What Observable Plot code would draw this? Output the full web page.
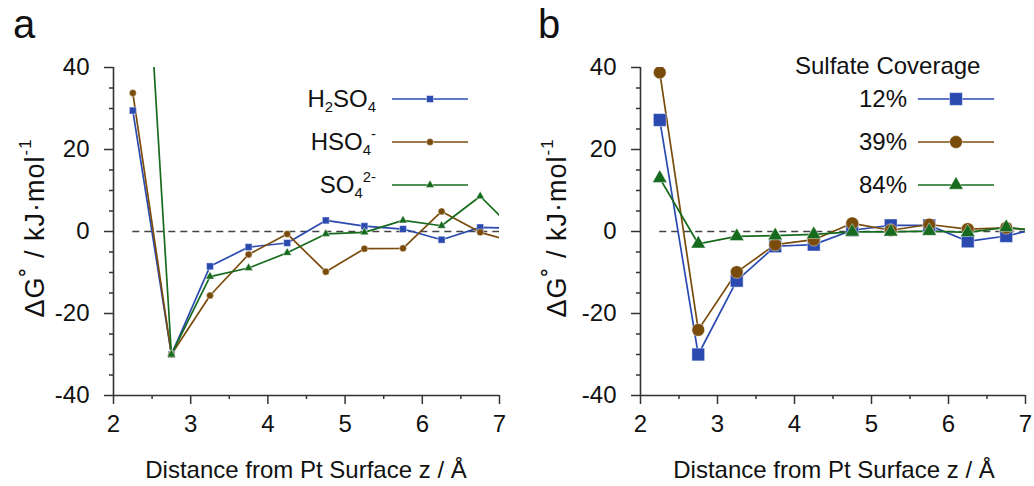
<!DOCTYPE html>
<html><head><meta charset="utf-8">
<script src="https://cdn.jsdelivr.net/npm/d3@7"></script>
<script src="https://cdn.jsdelivr.net/npm/@observablehq/plot@0.6"></script>
<style>
body{margin:0;background:#fff;}
#wrap{position:relative;width:1034px;height:486px;overflow:hidden;font-family:"Liberation Sans",Arial,sans-serif;color:#111;background:#fff;}
.panel{position:absolute;top:0;}
.ylab{position:absolute;font-size:27px;letter-spacing:1px;transform:translate(-50%,-50%) rotate(-90deg);white-space:nowrap;}
.xlab{position:absolute;font-size:24px;transform:translate(-50%,-50%);white-space:nowrap;}
.letter{position:absolute;font-size:40px;line-height:40px;}
.legtxt{position:absolute;font-size:24px;line-height:28px;white-space:nowrap;transform:translate(-100%,-50%);}
.legtitle{position:absolute;font-size:24px;line-height:28px;white-space:nowrap;transform:translate(0,-50%);}
.legsw{position:absolute;overflow:visible;}
sub,sup{font-size:0.62em;line-height:0;}
sub{vertical-align:-0.35em;}
sup{vertical-align:0.75em;}
</style></head><body><div id="wrap"></div>
<script>
// ---- data ----
const distance = [2.25, 2.75, 3.25, 3.75, 4.25, 4.75, 5.25, 5.75, 6.25, 6.75, 7.0];

const seriesA = ["H2SO4", "HSO4-", "SO42-"];
const legendLabelsA = ["H<sub>2</sub>SO<sub>4</sub>", "HSO<sub>4</sub><sup>-</sup>", "SO<sub>4</sub><sup>2-</sup>"];
const h2so4 = [29.5, -30, -8.5, -3.8, -2.8, 2.7, 1.3, 0.6, -2.0, 1.0, 0.9];
const hso4 = [33.8, -30, -15.6, -5.6, -0.6, -9.8, -4.2, -4.1, 4.9, -0.2, -1.5];
const so4 = [125, -30, -11, -8.9, -5.2, -0.6, -0.2, 2.7, 1.4, 8.6, 3.9];

const seriesB = ["12%", "39%", "84%"];
const legendTitleB = "Sulfate Coverage";
const cov12 = [27.2, -30, -12, -3.6, -3.2, 0.3, 1.5, 1.5, -2.4, -1.1, 0];
const cov39 = [38.8, -24, -9.9, -3.2, -2.0, 2.0, 0.3, 1.7, 0.6, 0.9, 0.5];
const cov84 = [13.0, -3.0, -1.2, -1.0, -0.7, -0.1, -0.1, 0.1, -0.2, 1.0, 0.5];

const xTicks = [2, 3, 4, 5, 6, 7];
const xMinor = [2.5, 3.5, 4.5, 5.5, 6.5];
const yTicks = [-40, -20, 0, 20, 40];
const yMinor = [-35, -30, -25, -15, -10, -5, 5, 10, 15, 25, 30, 35];

const xTitle = "Distance from Pt Surface z / Å";
const yTitleHTML = "ΔG<span style='position:relative;top:-0.1em'>˚</span> / kJ·mol<sup>-1</sup>";
const panelLetters = ["a", "b"];

// ---- style ----
const colors = ["#2b4ab0", "#7a4c0c", "#176b1e"];
const symbols = ["square", "circle", "triangle"];
const W = 517, H = 486;
const axisColor = "#333";

function makePanel(names, values, radii, ml, mr) {
  const rows = names.flatMap((s, i) => values[i].map((v, j) => ({series: s, x: distance[j], y: v, last: j === distance.length - 1})));
  const zero = [{y: 0, x1: distance[0], x2: xTicks[xTicks.length - 1]}];
  return Plot.plot({
    width: W, height: H,
    marginLeft: ml, marginRight: mr, marginTop: 67, marginBottom: 91,
    style: {fontFamily: "'Liberation Sans', Arial, sans-serif", fontSize: "24px", color: "#111", background: "transparent", overflow: "visible"},
    x: {domain: [xTicks[0], xTicks[xTicks.length - 1]]},
    y: {domain: [yTicks[0], yTicks[yTicks.length - 1]]},
    marks: [
      Plot.ruleY(zero, {y: "y", x1: "x1", x2: "x2", stroke: "#444", strokeWidth: 1.6, strokeDasharray: "7,5"}),
      ...names.map((s, i) => Plot.line(rows.filter(d => d.series === s), {x: "x", y: "y", stroke: colors[i], strokeWidth: 1.7, clip: true})),
      ...names.map((s, i) => Plot.dot(rows.filter(d => d.series === s && !d.last), {x: "x", y: "y", symbol: symbols[i], r: radii[i], fill: colors[i], stroke: "#fff", strokeWidth: 0.8, strokeOpacity: 0.55, clip: true})),
      Plot.axisX({ticks: xTicks, tickSize: 9, tickPadding: 10, tickFormat: d => String(d), label: null, stroke: axisColor, strokeWidth: 1.5, fill: "#111"}),
      Plot.axisX({ticks: xMinor, tickSize: 4, tickFormat: () => "", label: null, stroke: axisColor, strokeWidth: 1.5}),
      Plot.axisY({ticks: yTicks, tickSize: 9, tickPadding: 15, tickFormat: d => String(d), label: null, stroke: axisColor, strokeWidth: 1.5, fill: "#111"}),
      Plot.axisY({ticks: yMinor, tickSize: 4, tickFormat: () => "", label: null, stroke: axisColor, strokeWidth: 1.5}),
      Plot.ruleX([xTicks[0]], {stroke: axisColor, strokeWidth: 1.6}),
      Plot.ruleY([yTicks[0]], {stroke: axisColor, strokeWidth: 1.6})
    ]
  });
}

const wrap = document.getElementById("wrap");

function addDiv(cls, html, left, top) {
  const d = document.createElement("div");
  d.className = cls; d.innerHTML = html;
  d.style.left = left + "px"; d.style.top = top + "px";
  wrap.appendChild(d);
  return d;
}

function addLegend(labels, radii, textRight, x0, x1, rowsY) {
  labels.forEach((lab, i) => {
    addDiv("legtxt", lab, textRight, rowsY[i]);
    const svg = d3.create("svg").attr("class", "legsw").attr("width", x1 - x0).attr("height", 20)
      .style("left", x0 + "px").style("top", (rowsY[i] - 10) + "px");
    svg.append("line").attr("x1", 0).attr("x2", x1 - x0).attr("y1", 10).attr("y2", 10)
      .attr("stroke", colors[i]).attr("stroke-width", 1.7);
    const sym = {square: d3.symbolSquare, circle: d3.symbolCircle, triangle: d3.symbolTriangle}[symbols[i]];
    svg.append("path").attr("d", d3.symbol(sym, Math.PI * radii[i] * radii[i])())
      .attr("transform", `translate(${(x1 - x0) / 2},10)`)
      .attr("fill", colors[i]).attr("stroke", "#fff").attr("stroke-opacity", 0.55).attr("stroke-width", 0.8);
    wrap.appendChild(svg.node());
  });
}

// panel a
const radiiA = [3.9, 3.5, 3.2];
const pa = makePanel(seriesA, [h2so4, hso4, so4], radiiA, 113, 18);
pa.classList.add("panel"); pa.style.left = "0px";
wrap.appendChild(pa);

// panel b
const radiiB = [7.2, 6.4, 5.4];
const pb = makePanel(seriesB, [cov12, cov39, cov84], radiiB, 123, 9);
pb.classList.add("panel"); pb.style.left = W + "px";
wrap.appendChild(pb);

// titles
addDiv("letter", panelLetters[0], 13, 4);
addDiv("letter", panelLetters[1], 538, 4);
addDiv("ylab", yTitleHTML, 35, 228);
addDiv("ylab", yTitleHTML, 557, 228);
addDiv("xlab", xTitle, 306, 470);
addDiv("xlab", xTitle, 834, 470);

// legends
addLegend(legendLabelsA, radiiA, 376, 392, 468, [99, 142, 185]);
addDiv("legtitle", legendTitleB, 795, 66);
addLegend(seriesB, radiiB, 907, 918, 994, [99, 142, 185]);
</script></body></html>
